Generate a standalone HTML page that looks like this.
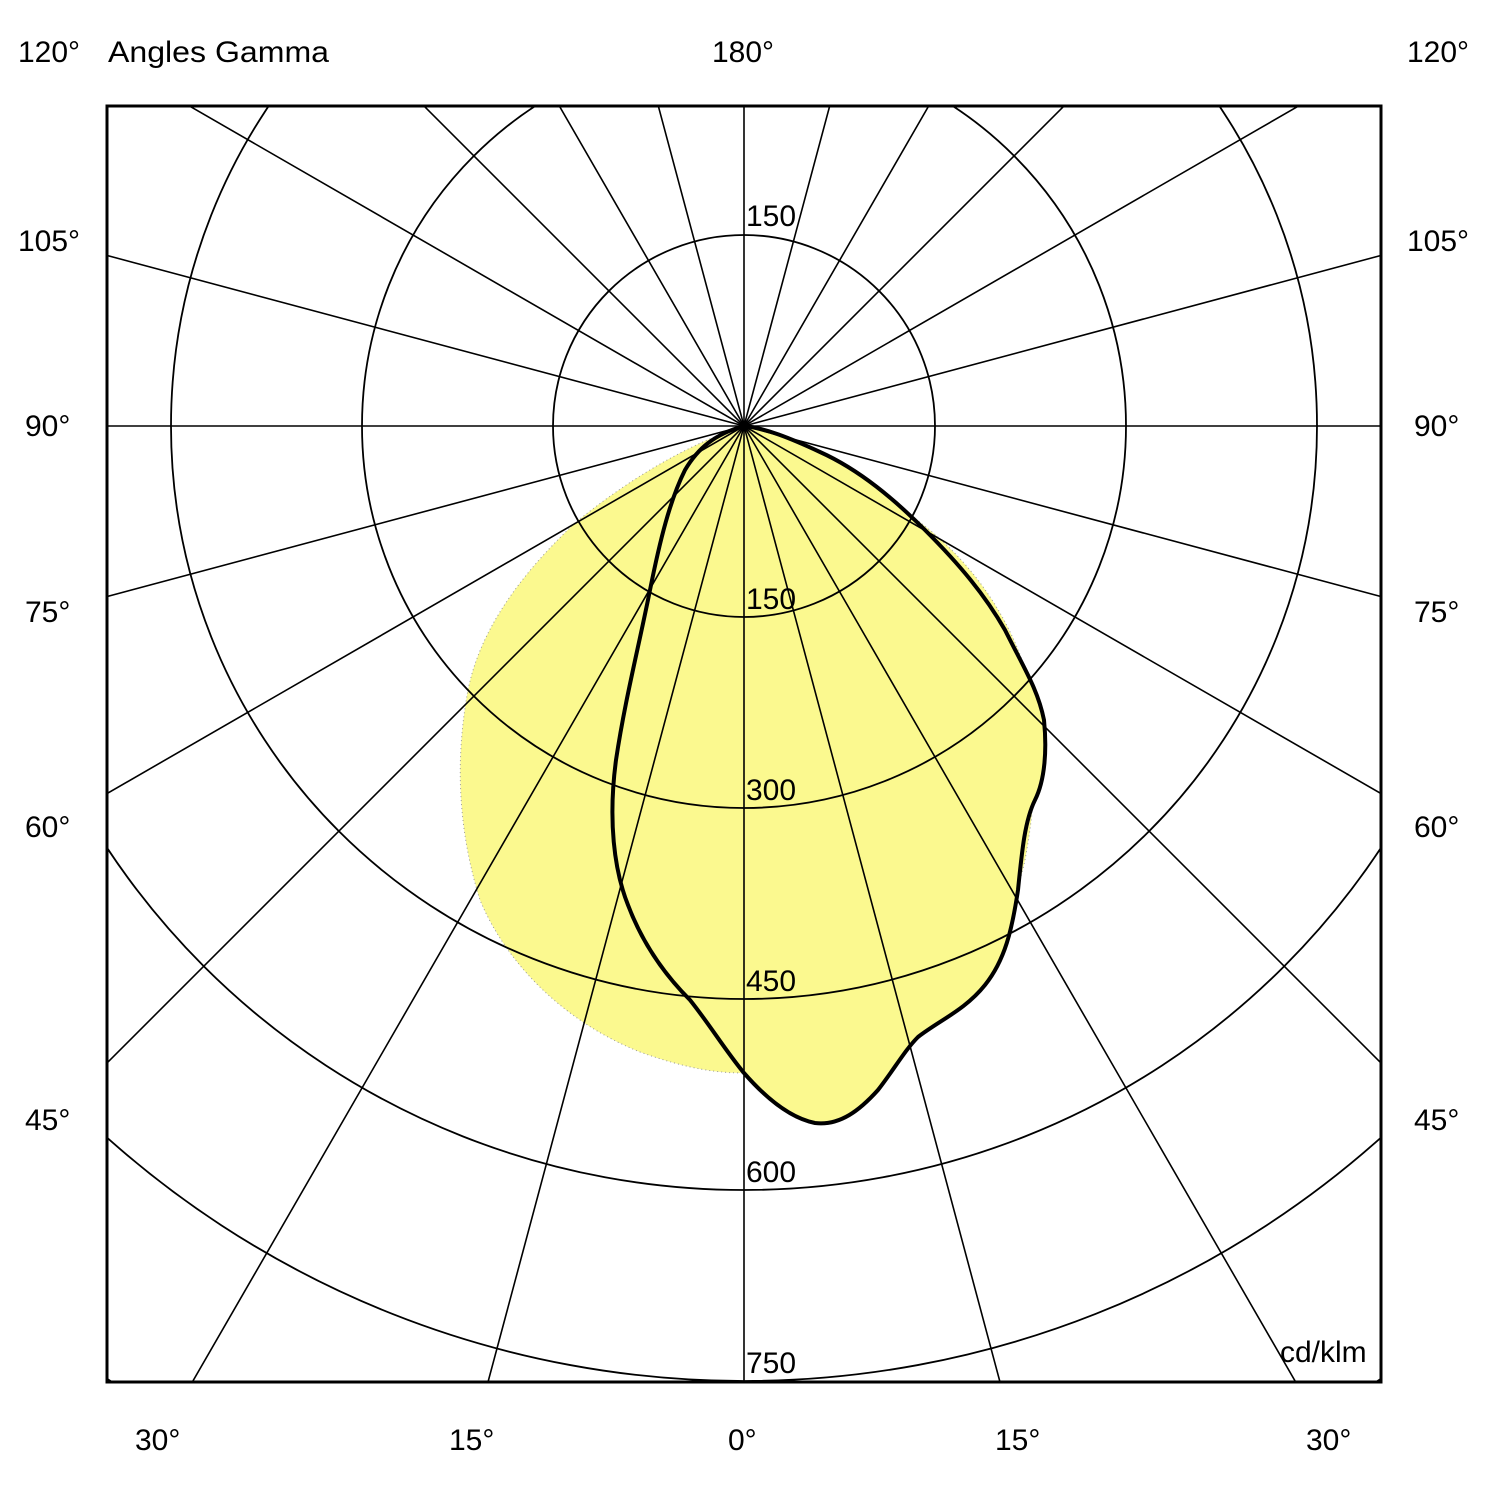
<!DOCTYPE html>
<html><head><meta charset="utf-8"><style>
html,body{margin:0;padding:0;background:#fff;overflow:hidden;width:1490px;height:1490px;}
svg{display:block;}
text{font-family:"Liberation Sans",Arial,sans-serif;font-size:30px;fill:#000;}
</style></head><body>
<svg width="1490" height="1490" viewBox="0 0 1490 1490" xmlns="http://www.w3.org/2000/svg">
<defs><clipPath id="c"><rect x="107" y="106" width="1274" height="1276"/></clipPath></defs>
<g clip-path="url(#c)">
<path d="M744,426 C700,440 640,470 575,523 C520,575 480,630 468,690 C455,760 458,830 480,900 C505,960 560,1020 640,1052 C690,1070 720,1073 744,1073 C800,1072 860,1058 920,1025 C975,990 1010,930 1025,860 C1038,790 1040,720 1022,660 C1000,600 960,550 910,515 C860,475 800,440 744,426 Z" fill="#fbf98f" stroke="#999" stroke-width="1" stroke-dasharray="1,3"/>
<path d="M744,426 C715,434 698,448 685,470 C670,500 660,540 650,590 C638,650 625,700 616,760 C608,820 614,870 628,905 C645,950 670,980 690,1000 C710,1025 725,1050 744,1073 C765,1097 790,1118 815,1123 C840,1126 860,1110 878,1090 C895,1068 905,1050 918,1037 C940,1020 965,1010 985,985 C1005,960 1012,930 1018,890 C1022,850 1025,820 1035,800 C1045,780 1047,750 1044,720 C1038,690 1025,670 1005,630 C985,595 960,565 925,530 C895,500 860,470 820,452 C790,438 765,428 744,426 Z" fill="#fbf98f"/>
<g fill="none" stroke="#000" stroke-width="1.8">
<circle cx="744" cy="426" r="191"/>
<circle cx="744" cy="426" r="382"/>
<circle cx="744" cy="426" r="573"/>
<circle cx="744" cy="426" r="764"/>
<circle cx="744" cy="426" r="955"/>
<circle cx="744" cy="426" r="1146"/>
</g>
<g stroke="#000" stroke-width="1.6">
<line x1="744" y1="426" x2="744" y2="1900"/>
<line x1="744" y1="426" x2="744" y2="-1100"/>
<line x1="744" y1="426" x2="-900" y2="426"/>
<line x1="744" y1="426" x2="2400" y2="426"/>
<line x1="-1239" y1="957" x2="2727" y2="-105"/>
<line x1="-1239" y1="-105" x2="2727" y2="957"/>
<line x1="-1034" y1="1452" x2="2522" y2="-600"/>
<line x1="-1034" y1="-600" x2="2522" y2="1452"/>
<line x1="-708" y1="1878" x2="2196" y2="-1026"/>
<line x1="-708" y1="-1026" x2="2196" y2="1878"/>
<line x1="-282" y1="2204" x2="1770" y2="-1352"/>
<line x1="-282" y1="-1352" x2="1770" y2="2204"/>
<line x1="213" y1="2409" x2="1275" y2="-1557"/>
<line x1="213" y1="-1557" x2="1275" y2="2409"/>
</g>
<path d="M744,426 C715,434 698,448 685,470 C670,500 660,540 650,590 C638,650 625,700 616,760 C608,820 614,870 628,905 C645,950 670,980 690,1000 C710,1025 725,1050 744,1073 C765,1097 790,1118 815,1123 C840,1126 860,1110 878,1090 C895,1068 905,1050 918,1037 C940,1020 965,1010 985,985 C1005,960 1012,930 1018,890 C1022,850 1025,820 1035,800 C1045,780 1047,750 1044,720 C1038,690 1025,670 1005,630 C985,595 960,565 925,530 C895,500 860,470 820,452 C790,438 765,428 744,426 Z" fill="none" stroke="#000" stroke-width="4"/>
</g>
<rect x="107" y="106" width="1274" height="1276" fill="none" stroke="#000" stroke-width="3"/>
<g>
<text x="18" y="62">120°</text>
<text x="108" y="62" textLength="221" lengthAdjust="spacingAndGlyphs">Angles Gamma</text>
<text x="712" y="62">180°</text>
<text x="1407" y="62">120°</text>
<text x="18" y="251">105°</text>
<text x="1407" y="251">105°</text>
<text x="25" y="436">90°</text>
<text x="1414" y="436">90°</text>
<text x="25" y="622">75°</text>
<text x="1414" y="622">75°</text>
<text x="25" y="837">60°</text>
<text x="1414" y="837">60°</text>
<text x="25" y="1130">45°</text>
<text x="1414" y="1130">45°</text>
<text x="135" y="1450">30°</text>
<text x="449" y="1450">15°</text>
<text x="728" y="1450">0°</text>
<text x="995" y="1450">15°</text>
<text x="1306" y="1450">30°</text>
<text x="746" y="226">150</text>
<text x="746" y="609">150</text>
<text x="746" y="800">300</text>
<text x="746" y="991">450</text>
<text x="746" y="1182">600</text>
<text x="746" y="1373">750</text>
<text x="1280" y="1362">cd/klm</text>
</g>
</svg>
</body></html>
